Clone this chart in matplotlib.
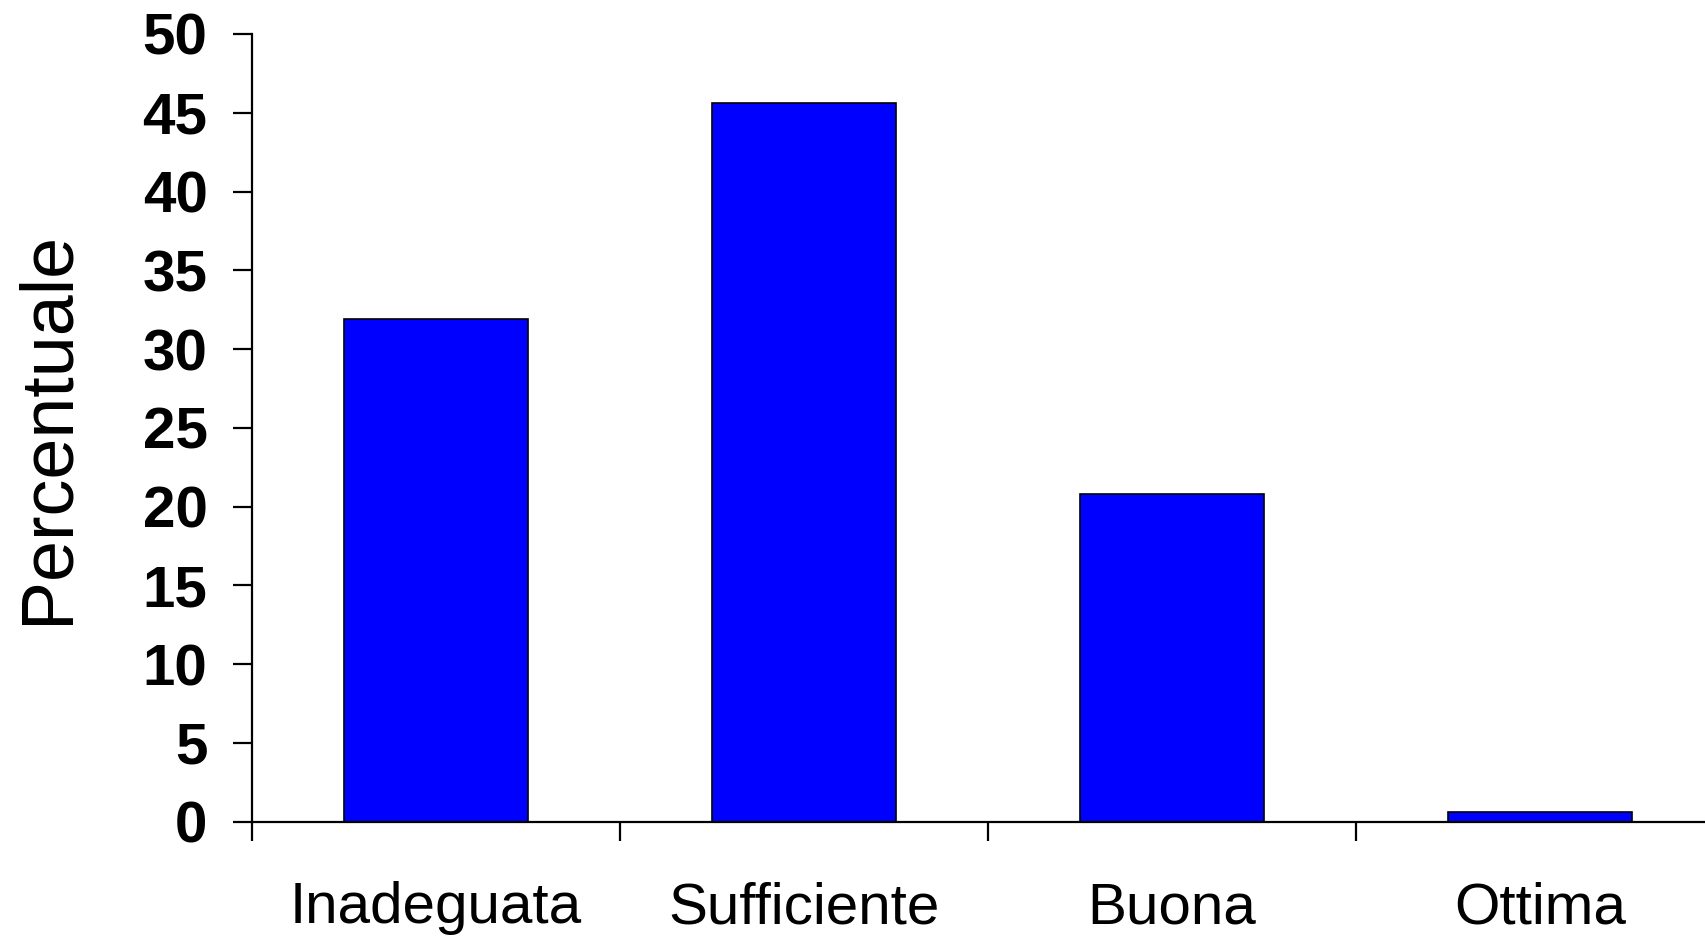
import matplotlib.pyplot as plt
import numpy as np

# giudizi e percentuali
categorie = ["Inadeguata", "Sufficiente", "Buona", "Ottima"]
percentuali = [31.9, 45.6, 20.8, 0.6]
tacche_y = [0, 5, 10, 15, 20, 25, 30, 35, 40, 45, 50]

plt.rcParams['font.family'] = ['Liberation Sans', 'DejaVu Sans']

fig = plt.figure(figsize=(17.06, 9.36), dpi=100)
ax = fig.add_axes([0.1477, 0.1221, 0.8628, 0.8416])

x = np.arange(len(categorie))
ax.bar(x, percentuali, width=0.5, color='#0000ff', edgecolor='black', linewidth=1.2)

ax.set_xlim(-0.5, len(categorie) - 0.5)
ax.set_ylim(0, 50)
ax.set_yticks(tacche_y)
ax.set_yticklabels([str(v) for v in tacche_y], fontsize=42, fontweight='bold')

# etichette al centro, tacche sui confini delle categorie
ax.set_xticks(x)
ax.set_xticklabels(categorie, fontsize=42)
ax.set_xticks(np.arange(len(categorie)) - 0.5, minor=True)
ax.tick_params(axis='x', which='major', length=0, pad=43)
ax.tick_params(axis='x', which='minor', length=14, width=1.6, direction='out')
ax.tick_params(axis='y', length=14, width=1.6, direction='out', pad=18)

for s in ['top', 'right']:
    ax.spines[s].set_visible(False)
for s in ['left', 'bottom']:
    ax.spines[s].set_linewidth(1.6)

ax.set_ylabel("Percentuale", fontsize=53)
ax.yaxis.set_label_coords(-0.115, 0.5)

fig.savefig("out.png", dpi=100)
